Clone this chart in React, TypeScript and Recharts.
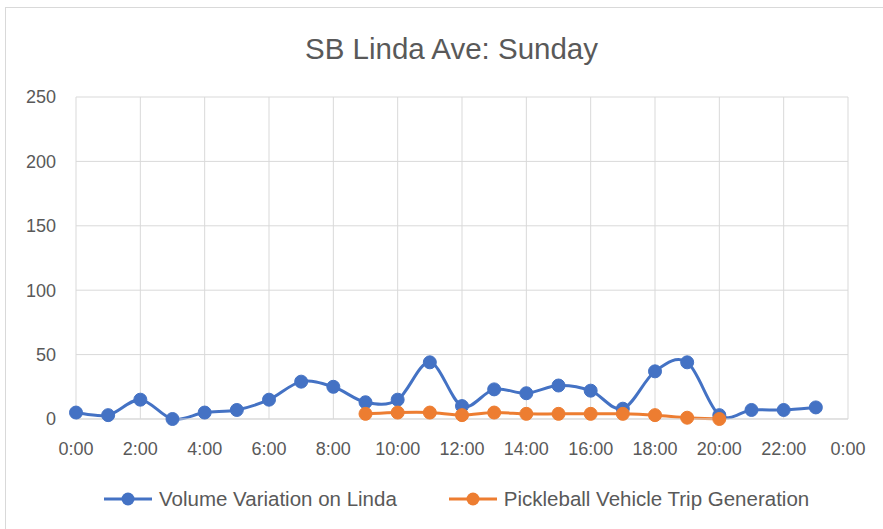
import React from "react";
import { LineChart, Line, XAxis, YAxis, CartesianGrid, Legend } from "recharts";

const hours = [0, 1, 2, 3, 4, 5, 6, 7, 8, 9, 10, 11, 12, 13, 14, 15, 16, 17, 18, 19, 20, 21, 22, 23];
const volumeLinda = [5, 3, 15, 0, 5, 7, 15, 29, 25, 13, 15, 44, 10, 23, 20, 26, 22, 8, 37, 44, 3, 7, 7, 9];
const pickleball: (number | null)[] = [null, null, null, null, null, null, null, null, null, 4, 5, 5, 3, 5, 4, 4, 4, 4, 3, 1, 0, null, null, null];
const xTicks = [0, 2, 4, 6, 8, 10, 12, 14, 16, 18, 20, 22, 24];
const yTicks = [0, 50, 100, 150, 200, 250];
const seriesNames = ["Volume Variation on Linda", "Pickleball Vehicle Trip Generation"];
const seriesColors = ["#4472C4", "#ED7D31"];
const title = "SB Linda Ave: Sunday";

const data = hours.map((h, i) => ({ hour: h, volume: volumeLinda[i], pickle: pickleball[i] }));

const FONT = "'Liberation Sans', Arial, sans-serif";
const TEXT = "#595959";

// Excel-like smoothing (Catmull-Rom style bezier)
const excelCurve: any = (context: any) => {
  let pts: number[][] = [];
  return {
    areaStart() {},
    areaEnd() {},
    lineStart() {
      pts = [];
    },
    point(x: number, y: number) {
      pts.push([+x, +y]);
    },
    lineEnd() {
      const n = pts.length;
      if (!n) return;
      context.moveTo(pts[0][0], pts[0][1]);
      if (n === 1) {
        context.lineTo(pts[0][0], pts[0][1]);
        return;
      }
      for (let i = 0; i < n - 1; i++) {
        const p0 = pts[i - 1] || pts[i];
        const p1 = pts[i];
        const p2 = pts[i + 1];
        const p3 = pts[i + 2] || p2;
        context.bezierCurveTo(
          p1[0] + (p2[0] - p0[0]) / 6,
          p1[1] + (p2[1] - p0[1]) / 6,
          p2[0] - (p3[0] - p1[0]) / 6,
          p2[1] - (p3[1] - p1[1]) / 6,
          p2[0],
          p2[1]
        );
      }
    },
  };
};

const LegendContent = () => (
  <div style={{ display: "flex", alignItems: "center", marginLeft: 104, fontFamily: FONT, fontSize: 20.5, color: TEXT }}>
    {seriesNames.map((name, i) => (
      <div key={name} style={{ display: "flex", alignItems: "center", marginRight: 52 }}>
        <svg width={48} height={16} style={{ marginRight: 7 }}>
          <line x1={0} y1={8} x2={48} y2={8} stroke={seriesColors[i]} strokeWidth={3} />
          <circle cx={24} cy={8} r={6.5} fill={seriesColors[i]} />
        </svg>
        <span>{name}</span>
      </div>
    ))}
  </div>
);

export default function App() {
  return (
    <div style={{ position: "absolute", left: 0, top: 0, width: 883, height: 529, background: "#fff", overflow: "hidden" }}>
      <div style={{ position: "absolute", left: 5, top: 7, width: 900, height: 540, border: "1px solid #d9d9d9", boxSizing: "border-box" }} />
      <div style={{ position: "absolute", left: 0, top: 32, width: 903, textAlign: "center", fontFamily: FONT, fontSize: 29.5, color: TEXT }}>
        {title}
      </div>
      <div style={{ position: "absolute", left: 0, top: 0 }}>
        <LineChart width={883} height={529} data={data} margin={{ top: 97, right: 35, left: 0, bottom: 0 }}>
          <CartesianGrid stroke="#d9d9d9" strokeWidth={1} />
          <XAxis
            dataKey="hour"
            type="number"
            domain={[0, 24]}
            ticks={xTicks}
            tickFormatter={(h: number) => `${h % 24}:00`}
            height={110}
            tickSize={0}
            tickMargin={23}
            axisLine={{ stroke: "#d9d9d9" }}
            tick={{ fill: TEXT, fontSize: 18, fontFamily: FONT }}
          />
          <YAxis
            domain={[0, 250]}
            ticks={yTicks}
            width={76}
            tickSize={0}
            tickMargin={20}
            axisLine={false}
            tick={{ fill: TEXT, fontSize: 18, fontFamily: FONT }}
          />
          <Line
            dataKey="volume"
            name={seriesNames[0]}
            type={excelCurve}
            stroke={seriesColors[0]}
            strokeWidth={3}
            dot={{ r: 6.5, fill: seriesColors[0], stroke: seriesColors[0], strokeWidth: 1 }}
            isAnimationActive={false}
          />
          <Line
            dataKey="pickle"
            name={seriesNames[1]}
            type={excelCurve}
            stroke={seriesColors[1]}
            strokeWidth={3}
            dot={{ r: 6.5, fill: seriesColors[1], stroke: seriesColors[1], strokeWidth: 1 }}
            connectNulls={false}
            isAnimationActive={false}
          />
          <Legend
            layout="horizontal"
            verticalAlign="middle"
            align="center"
            content={<LegendContent />}
            wrapperStyle={{ position: "absolute", left: 0, top: 487, width: 883 }}
          />
        </LineChart>
      </div>
    </div>
  );
}
